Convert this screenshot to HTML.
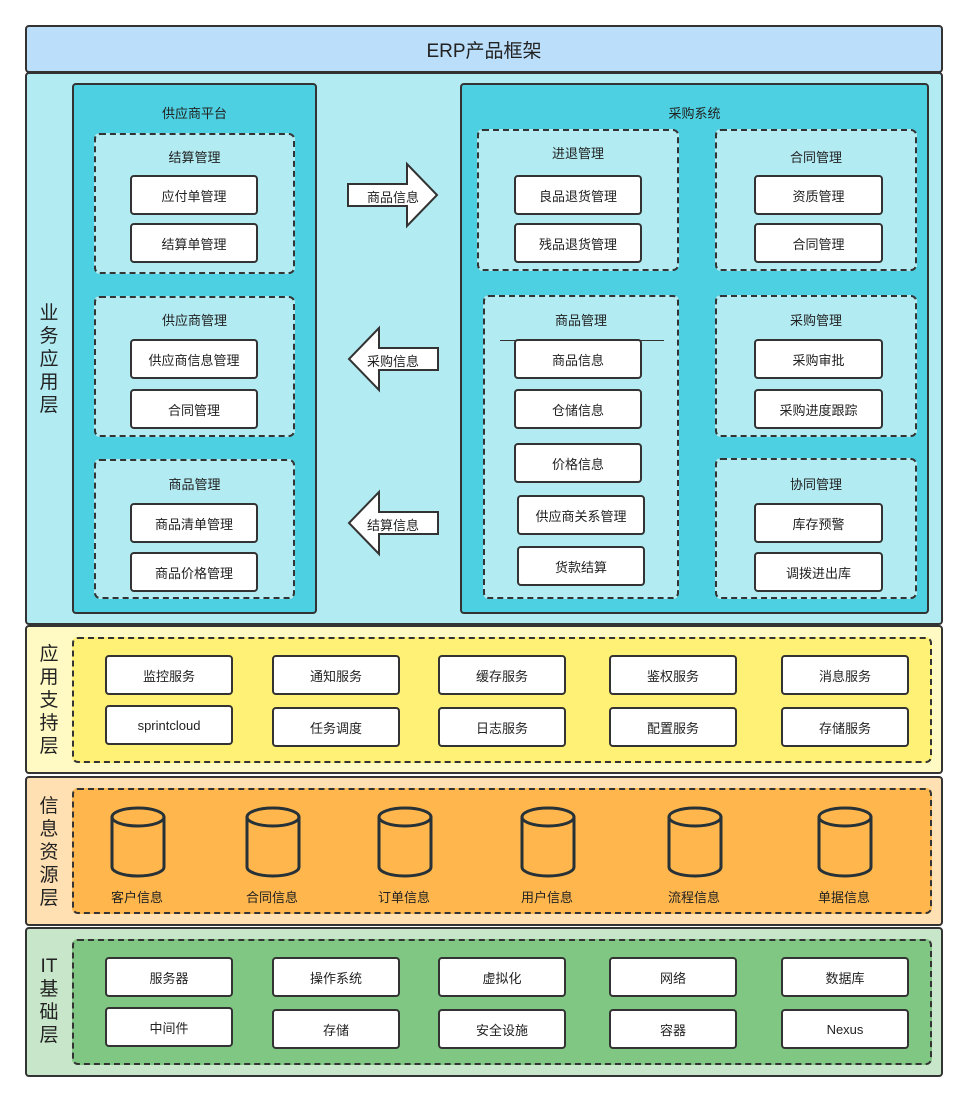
<!DOCTYPE html>
<html><head><meta charset="utf-8"><style>
body{margin:0;width:968px;height:1104px;background:#fff;position:relative;font-family:"Liberation Sans","Noto Sans CJK SC",sans-serif;color:#222;overflow:hidden}
div{position:absolute;box-sizing:border-box}
.l{border:2px solid #333;border-radius:4px}
.d{border:2px dashed #333;border-radius:6px}
.b{background:#fff;border:2px solid #333;border-radius:4px;display:flex;align-items:center;justify-content:center;font-size:13px}
.t{font-size:13px;text-align:center}
.v{font-size:19px;width:24px;line-height:23px;text-align:center}
</style></head><body>
<div class="l" style="left:25px;top:25px;width:918px;height:48px;background:#bbdefb;display:flex;align-items:center;justify-content:center;font-size:19px">ERP产品框架</div>
<div class="l" style="left:25px;top:72px;width:918px;height:553px;background:#b2ebf2"></div>
<div class="v" style="left:37px;top:302px">业务应用层</div>
<div class="l" style="left:72px;top:83px;width:245px;height:531px;background:#4dd0e1"></div>
<div class="t" style="left:72px;top:103px;width:245px">供应商平台</div>
<div class="d" style="left:94px;top:133px;width:201px;height:141px;background:#b2ebf2"></div>
<div class="t" style="left:94px;top:147px;width:201px">结算管理</div>
<div class="b" style="left:130px;top:175px;width:128px;height:40px">应付单管理</div>
<div class="b" style="left:130px;top:223px;width:128px;height:40px">结算单管理</div>
<div class="d" style="left:94px;top:296px;width:201px;height:141px;background:#b2ebf2"></div>
<div class="t" style="left:94px;top:310px;width:201px">供应商管理</div>
<div class="b" style="left:130px;top:339px;width:128px;height:40px">供应商信息管理</div>
<div class="b" style="left:130px;top:389px;width:128px;height:40px">合同管理</div>
<div class="d" style="left:94px;top:459px;width:201px;height:140px;background:#b2ebf2"></div>
<div class="t" style="left:94px;top:474px;width:201px">商品管理</div>
<div class="b" style="left:130px;top:503px;width:128px;height:40px">商品清单管理</div>
<div class="b" style="left:130px;top:552px;width:128px;height:40px">商品价格管理</div>
<svg style="position:absolute;left:0;top:0" width="968" height="1104">
<polygon points="348,184 407,184 407,164 437,195 407,226 407,206 348,206" fill="#fff" stroke="#333" stroke-width="2"/>
<polygon points="438,348 379,348 379,328 349,359 379,390 379,370 438,370" fill="#fff" stroke="#333" stroke-width="2"/>
<polygon points="438,512 379,512 379,492 349,523 379,554 379,534 438,534" fill="#fff" stroke="#333" stroke-width="2"/>
</svg>
<div class="t" style="left:355px;top:187px;width:76px">商品信息</div>
<div class="t" style="left:355px;top:351px;width:76px">采购信息</div>
<div class="t" style="left:355px;top:515px;width:76px">结算信息</div>
<div class="l" style="left:460px;top:83px;width:469px;height:531px;background:#4dd0e1"></div>
<div class="t" style="left:460px;top:103px;width:469px">采购系统</div>
<div class="d" style="left:477px;top:129px;width:202px;height:142px;background:#b2ebf2"></div>
<div class="t" style="left:477px;top:143px;width:202px">进退管理</div>
<div class="b" style="left:514px;top:175px;width:128px;height:40px">良品退货管理</div>
<div class="b" style="left:514px;top:223px;width:128px;height:40px">残品退货管理</div>
<div class="d" style="left:715px;top:129px;width:202px;height:142px;background:#b2ebf2"></div>
<div class="t" style="left:715px;top:147px;width:202px">合同管理</div>
<div class="b" style="left:754px;top:175px;width:129px;height:40px">资质管理</div>
<div class="b" style="left:754px;top:223px;width:129px;height:40px">合同管理</div>
<div class="d" style="left:483px;top:295px;width:196px;height:304px;background:#b2ebf2"></div>
<div class="t" style="left:483px;top:310px;width:196px">商品管理</div>
<div style="left:500px;top:340px;width:164px;height:1px;background:#333"></div>
<div class="b" style="left:514px;top:339px;width:128px;height:40px">商品信息</div>
<div class="b" style="left:514px;top:389px;width:128px;height:40px">仓储信息</div>
<div class="b" style="left:514px;top:443px;width:128px;height:40px">价格信息</div>
<div class="b" style="left:517px;top:495px;width:128px;height:40px">供应商关系管理</div>
<div class="b" style="left:517px;top:546px;width:128px;height:40px">货款结算</div>
<div class="d" style="left:715px;top:295px;width:202px;height:142px;background:#b2ebf2"></div>
<div class="t" style="left:715px;top:310px;width:202px">采购管理</div>
<div class="b" style="left:754px;top:339px;width:129px;height:40px">采购审批</div>
<div class="b" style="left:754px;top:389px;width:129px;height:40px">采购进度跟踪</div>
<div class="d" style="left:715px;top:458px;width:202px;height:141px;background:#b2ebf2"></div>
<div class="t" style="left:715px;top:474px;width:202px">协同管理</div>
<div class="b" style="left:754px;top:503px;width:129px;height:40px">库存预警</div>
<div class="b" style="left:754px;top:552px;width:129px;height:40px">调拨进出库</div>

<div class="l" style="left:25px;top:625px;width:918px;height:149px;background:#fff9c4"></div>
<div class="v" style="left:37px;top:643px">应用支持层</div>
<div class="d" style="left:72px;top:637px;width:860px;height:126px;background:#fff176"></div>
<div class="b" style="left:105px;top:655px;width:128px;height:40px">监控服务</div>
<div class="b" style="left:272px;top:655px;width:128px;height:40px">通知服务</div>
<div class="b" style="left:438px;top:655px;width:128px;height:40px">缓存服务</div>
<div class="b" style="left:609px;top:655px;width:128px;height:40px">鉴权服务</div>
<div class="b" style="left:781px;top:655px;width:128px;height:40px">消息服务</div>
<div class="b" style="left:105px;top:705px;width:128px;height:40px">sprintcloud</div>
<div class="b" style="left:272px;top:707px;width:128px;height:40px">任务调度</div>
<div class="b" style="left:438px;top:707px;width:128px;height:40px">日志服务</div>
<div class="b" style="left:609px;top:707px;width:128px;height:40px">配置服务</div>
<div class="b" style="left:781px;top:707px;width:128px;height:40px">存储服务</div>

<div class="l" style="left:25px;top:776px;width:918px;height:150px;background:#ffe0b2"></div>
<div class="v" style="left:37px;top:795px">信息资源层</div>
<div class="d" style="left:72px;top:788px;width:860px;height:126px;background:#ffb74d"></div>
<svg style="position:absolute;left:0;top:0" width="968" height="1104" fill="none" stroke="#263238" stroke-width="3">
<g id="c"><path d="M112,817 v50 a26,9 0 0 0 52,0 v-50 a26,9 0 0 0 -52,0 a26,9 0 0 0 52,0"/></g>
<use href="#c" x="135"/><use href="#c" x="267"/><use href="#c" x="410"/><use href="#c" x="557"/><use href="#c" x="707"/>
</svg>
<div class="t" style="left:97px;top:887px;width:80px">客户信息</div>
<div class="t" style="left:232px;top:887px;width:80px">合同信息</div>
<div class="t" style="left:364px;top:887px;width:80px">订单信息</div>
<div class="t" style="left:507px;top:887px;width:80px">用户信息</div>
<div class="t" style="left:654px;top:887px;width:80px">流程信息</div>
<div class="t" style="left:804px;top:887px;width:80px">单据信息</div>

<div class="l" style="left:25px;top:927px;width:918px;height:150px;background:#c8e6c9"></div>
<div class="v" style="left:37px;top:955px">IT<br>基<br>础<br>层</div>
<div class="d" style="left:72px;top:939px;width:860px;height:126px;background:#81c784"></div>
<div class="b" style="left:105px;top:957px;width:128px;height:40px">服务器</div>
<div class="b" style="left:272px;top:957px;width:128px;height:40px">操作系统</div>
<div class="b" style="left:438px;top:957px;width:128px;height:40px">虚拟化</div>
<div class="b" style="left:609px;top:957px;width:128px;height:40px">网络</div>
<div class="b" style="left:781px;top:957px;width:128px;height:40px">数据库</div>
<div class="b" style="left:105px;top:1007px;width:128px;height:40px">中间件</div>
<div class="b" style="left:272px;top:1009px;width:128px;height:40px">存储</div>
<div class="b" style="left:438px;top:1009px;width:128px;height:40px">安全设施</div>
<div class="b" style="left:609px;top:1009px;width:128px;height:40px">容器</div>
<div class="b" style="left:781px;top:1009px;width:128px;height:40px">Nexus</div>
</body></html>
